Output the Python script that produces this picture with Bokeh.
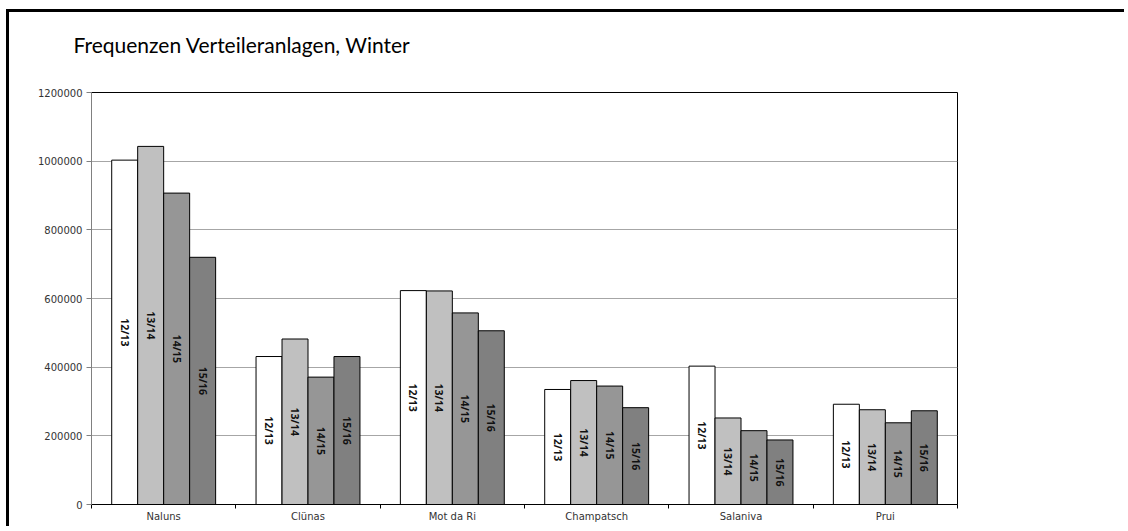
import math
from bokeh.plotting import figure
from bokeh.models import ColumnDataSource, FixedTicker, PrintfTickFormatter, Range1d, Title
from bokeh.core.properties import value
from bokeh.embed import file_html
from bokeh.resources import INLINE

# ---- data ----
categories = ["Naluns", "Clünas", "Mot da Ri", "Champatsch", "Salaniva", "Prui"]
seasons = ["12/13", "13/14", "14/15", "15/16"]
v_1213 = [1003000, 431000, 623000, 335000, 403000, 292000]
v_1314 = [1043000, 482000, 622000, 361000, 252000, 276000]
v_1415 = [907000, 371000, 558000, 345000, 215000, 238000]
v_1516 = [720000, 431000, 506000, 282000, 188000, 273000]
y_ticks = [0, 200000, 400000, 600000, 800000, 1000000, 1200000]
title_text = "Frequenzen Verteileranlagen, Winter"

series = [v_1213, v_1314, v_1415, v_1516]
colors = ["#FFFFFF", "#C0C0C0", "#969696", "#808080"]
offsets = [-0.27, -0.09, 0.09, 0.27]
bar_w = 0.18

p = figure(
    width=1118, height=517,
    x_range=Range1d(0, len(categories)), y_range=Range1d(y_ticks[0], y_ticks[-1]),
    output_backend="svg", toolbar_location=None,
    min_border_left=82, min_border_right=170, min_border_top=80, min_border_bottom=25,
    styles={"border-top": "3px solid #000", "border-left": "3px solid #000",
            "margin-left": "6px", "margin-top": "9px"},
)
# spacer between frame and title (closest to the frame)
p.add_layout(Title(text=" ", text_font_size="12px", standoff=18), "above")
p.add_layout(Title(text=title_text, text_font="Lato", text_font_size="21px",
                   text_font_style="normal", text_color="#000000",
                   vertical_align="top", standoff=0, offset=-18), "above")

p.outline_line_color = "#000000"
p.outline_line_width = 1
p.background_fill_color = "#FFFFFF"
p.border_fill_color = "#FFFFFF"

for vals, col, off, lab in zip(series, colors, offsets, seasons):
    src = ColumnDataSource(dict(
        x=[i + 0.5 + off for i in range(len(categories))],
        top=vals,
        ymid=[v / 2 for v in vals],
        label=[lab] * len(categories),
    ))
    p.vbar(x="x", top="top", bottom=0, width=bar_w, source=src,
           fill_color=col, line_color="#000000", line_width=1)
    p.text(x="x", y="ymid", text="label", source=src, angle=-math.pi / 2,
           text_align="center", text_baseline="middle",
           text_font=value("Open Sans"), text_font_size="10.5px",
           text_font_style="bold", text_color="#111111")

# x axis
xa = p.xaxis[0]
xa.ticker = FixedTicker(ticks=[i + 0.5 for i in range(len(categories))],
                        minor_ticks=list(range(len(categories) + 1)))
xa.major_label_overrides = {i + 0.5: c for i, c in enumerate(categories)}
xa.axis_line_color = "#000000"
xa.major_tick_line_color = None
xa.major_tick_out = 0
xa.major_tick_in = 0
xa.minor_tick_line_color = "#000000"
xa.minor_tick_out = 4
xa.minor_tick_in = 0
xa.major_label_standoff = 2
xa.major_label_text_font = "DejaVu Sans"
xa.major_label_text_font_size = "10px"
xa.major_label_text_color = "#333333"

# y axis
ya = p.yaxis[0]
ya.ticker = FixedTicker(ticks=y_ticks)
ya.formatter = PrintfTickFormatter(format="%d")
ya.axis_line_color = "#808080"
ya.major_tick_line_color = "#808080"
ya.major_tick_out = 5
ya.major_tick_in = 0
ya.minor_tick_line_color = None
ya.major_label_standoff = 4
ya.major_label_text_font = "DejaVu Sans"
ya.major_label_text_font_size = "10px"
ya.major_label_text_color = "#333333"

p.xgrid.visible = False
p.ygrid.ticker = FixedTicker(ticks=y_ticks)
p.ygrid.grid_line_color = "#A6A6A6"
p.ygrid.grid_line_width = 1

open("out.html", "w").write(file_html(p, INLINE))
